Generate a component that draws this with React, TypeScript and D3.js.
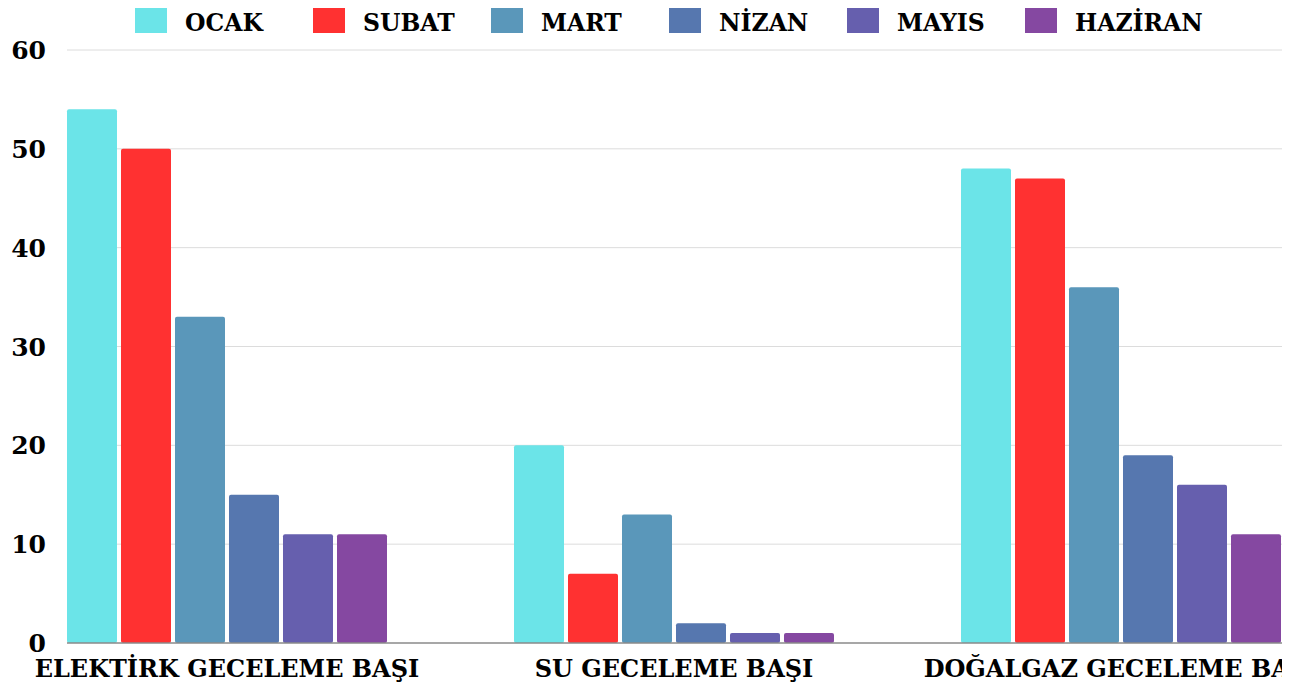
import React from "react";
import * as d3 from "d3";

const categories = ["ELEKTİRK GECELEME BAŞI", "SU GECELEME BAŞI", "DOĞALGAZ GECELEME BAŞI"];
const seriesNames = ["OCAK", "SUBAT", "MART", "NİZAN", "MAYIS", "HAZİRAN"];
const ocak = [54, 20, 48];
const subat = [50, 7, 47];
const mart = [33, 13, 36];
const nizan = [15, 2, 19];
const mayis = [11, 1, 16];
const haziran = [11, 1, 11];
const seriesColors = ["#6be4e8", "#ff3131", "#5a97ba", "#5677af", "#665fae", "#8548a1"];
const yTicks = [0, 10, 20, 30, 40, 50, 60];

const seriesValues = [ocak, subat, mart, nizan, mayis, haziran];

const W = 1314;
const H = 686;
const FONT = "'DejaVu Serif', serif";

export default function App() {
  const left = 67;
  const right = 1281;
  const x0 = d3
    .scaleBand<string>()
    .domain(categories)
    .range([left, right])
    .paddingInner(127 / 447)
    .paddingOuter(0);
  const x1 = d3
    .scaleBand<string>()
    .domain(seriesNames)
    .range([0, x0.bandwidth()])
    .paddingInner(0.074)
    .paddingOuter(0);
  const y = d3.scaleLinear().domain([0, 60]).range([643, 50]);
  const clipRight = 1282;

  return (
    <svg width={W} height={H} style={{ position: "absolute", left: 0, top: 0, background: "#fff" }}>
      <defs>
        <clipPath id="plotclip">
          <rect x={0} y={0} width={clipRight} height={H} />
        </clipPath>
      </defs>
      {/* legend */}
      {seriesNames.map((s, i) => {
        const lx = 135 + i * 178;
        return (
          <g key={s}>
            <rect x={lx} y={8} width={32} height={25} fill={seriesColors[i]} />
            <text x={lx + 50} y={31} fontFamily={FONT} fontWeight="bold" fontSize={23.5} fill="#000">
              {s}
            </text>
          </g>
        );
      })}
      {/* y axis labels */}
      {yTicks.map((t) => (
        <text
          key={t}
          x={46}
          y={y(t)}
          dy="0.36em"
          textAnchor="end"
          fontFamily={FONT}
          fontWeight="bold"
          fontSize={25}
          fill="#000"
        >
          {t}
        </text>
      ))}
      <g clipPath="url(#plotclip)">
        {yTicks
          .filter((t) => t > 0)
          .map((t) => (
            <line key={t} x1={left} x2={W} y1={y(t)} y2={y(t)} stroke="#dcdcdc" strokeWidth={1} />
          ))}
        {categories.map((c, ci) => (
          <g key={c} transform={`translate(${x0(c)},0)`}>
            {seriesNames.map((s, si) => {
              const v = seriesValues[si][ci];
              return (
                <rect
                  key={s}
                  x={x1(s)}
                  y={y(v)}
                  width={x1.bandwidth()}
                  height={y(0) - y(v)}
                  rx={2}
                  fill={seriesColors[si]}
                />
              );
            })}
          </g>
        ))}
        <line x1={left} x2={W} y1={y(0)} y2={y(0)} stroke="#8a8a8a" strokeWidth={1.5} />
        {categories.map((c) => (
          <text
            key={c}
            x={(x0(c) as number) + x0.bandwidth() / 2}
            y={677}
            textAnchor="middle"
            fontFamily={FONT}
            fontWeight="bold"
            fontSize={24}
            fill="#000"
          >
            {c}
          </text>
        ))}
      </g>
    </svg>
  );
}
